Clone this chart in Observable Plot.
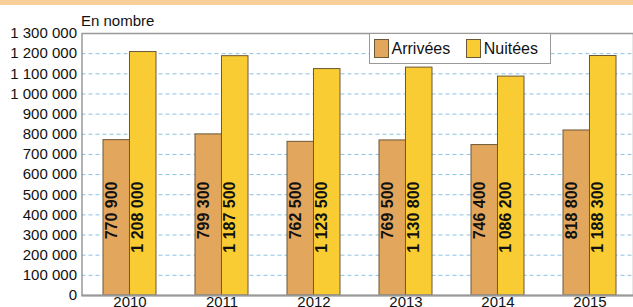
<!DOCTYPE html>
<html>
<head>
<meta charset="utf-8">
<script src="https://cdn.jsdelivr.net/npm/d3@7"></script>
<script src="https://cdn.jsdelivr.net/npm/@observablehq/plot@0.6"></script>
<style>
  html, body { margin: 0; padding: 0; background: #fff; overflow: hidden; }
  #wrap { position: relative; width: 633px; height: 307px; font-family: "Liberation Sans", Arial, sans-serif; }
  #band { position: absolute; left: 0; top: 0; width: 633px; height: 5px; background: #f8cf99; }
  #unit { position: absolute; left: 81px; top: 12px; font-size: 15px; line-height: 17px; color: #111; }
  #legend { position: absolute; left: 369px; top: 33px; width: 180px; height: 29px; border: 1px solid #999; background: #fff;
            display: flex; align-items: center; font-size: 16px; color: #111; box-sizing: content-box; }
  .sw { width: 18px; height: 17px; border: 1px solid #6b5836; margin-left: 4px; margin-right: 3px; }
  .lab { margin-right: 12px; }
</style>
</head>
<body>
<div id="wrap"></div>
<script>
const years = ["2010", "2011", "2012", "2013", "2014", "2015"];
const arrivees = [770900, 799300, 762500, 769500, 746400, 818800];
const nuitees = [1208000, 1187500, 1123500, 1130800, 1086200, 1188300];
const yTicks = [0, 100000, 200000, 300000, 400000, 500000, 600000, 700000, 800000, 900000, 1000000, 1100000, 1200000, 1300000];
const gridTicks = [100000, 200000, 300000, 400000, 500000, 600000, 700000, 800000, 900000, 1000000, 1100000, 1200000];
const seriesNames = ["Arrivées", "Nuitées"];
const seriesColors = ["#e2a65c", "#f8cc32"];

const data = years.map((y, i) => ({year: y, arr: arrivees[i], nui: nuitees[i]}));
const fmt = d => d3.format(",")(d).replace(/,/g, " ");

const xRange = [81.5, 637];
const pIn = 0.428, pOut = 0.214;
const step = (xRange[1] - xRange[0]) / (years.length - pIn + 2 * pOut);
const bw = step * (1 - pIn);
const half = bw / 2;

const chart = Plot.plot({
  width: 633,
  height: 307,
  marginLeft: 81.5,
  marginRight: 0,
  marginTop: 33,
  marginBottom: 12,
  style: {fontSize: "15px", fontFamily: "Liberation Sans, Arial, sans-serif", color: "#111", background: "transparent"},
  x: {domain: years, range: xRange, paddingInner: pIn, paddingOuter: pOut, tickSize: 0, tickPadding: 0.5, label: null},
  y: {domain: [0, 1300000], ticks: yTicks, tickFormat: fmt, tickSize: 0, tickPadding: 5, label: null},
  marks: [
    Plot.ruleY(gridTicks, {stroke: "#8cc2e6", strokeWidth: 1, strokeDasharray: "4,3"}),
    Plot.barY(data, {x: "year", y: "arr", fill: seriesColors[0], stroke: "#6b5836", strokeWidth: 1, insetRight: half}),
    Plot.barY(data, {x: "year", y: "nui", fill: seriesColors[1], stroke: "#6b5836", strokeWidth: 1, insetLeft: half}),
    Plot.text(data, {x: "year", text: d => fmt(d.arr), frameAnchor: "bottom", dy: -114, dx: -half / 2, rotate: -90, textAnchor: "end", fontSize: 16, fontWeight: "bold", fill: "#111"}),
    Plot.text(data, {x: "year", text: d => fmt(d.nui), frameAnchor: "bottom", dy: -114, dx: half / 2, rotate: -90, textAnchor: "end", fontSize: 16, fontWeight: "bold", fill: "#111"}),
    Plot.frame({stroke: "#999", strokeWidth: 1.5}),
    Plot.ruleY([0], {stroke: "#999", strokeWidth: 2})
  ]
});

const wrap = document.getElementById("wrap");
chart.style.maxWidth = "none";
wrap.appendChild(chart);

const band = document.createElement("div"); band.id = "band"; wrap.appendChild(band);
const unit = document.createElement("div"); unit.id = "unit"; unit.textContent = "En nombre"; wrap.appendChild(unit);
const legend = document.createElement("div"); legend.id = "legend";
seriesNames.forEach((n, i) => {
  const sw = document.createElement("div"); sw.className = "sw"; sw.style.background = seriesColors[i];
  const lb = document.createElement("span"); lb.className = "lab"; lb.textContent = n;
  legend.appendChild(sw); legend.appendChild(lb);
});
wrap.appendChild(legend);
</script>
</body>
</html>
